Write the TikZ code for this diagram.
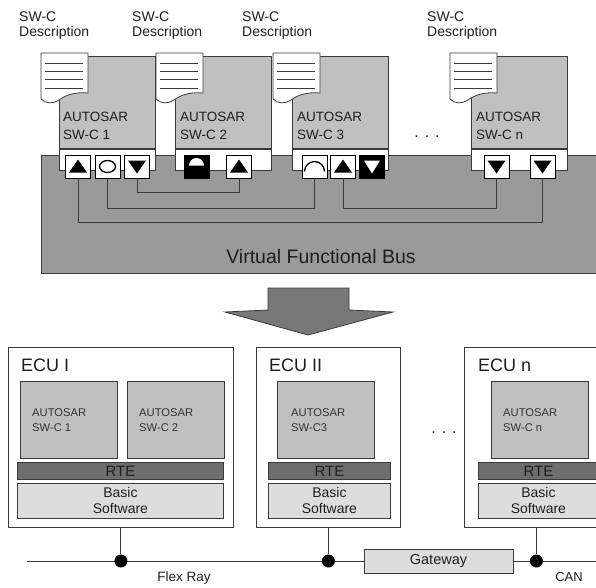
\documentclass[tikz,border=0pt]{standalone}
\usepackage{fontspec}
\setmainfont{Liberation Sans}
\usetikzlibrary{calc}
\definecolor{edge}{HTML}{3A3A3A}
\definecolor{txt}{HTML}{1E1E1E}
\definecolor{swcgray}{HTML}{C0C0C0}
\definecolor{busgray}{HTML}{9A9A9A}
\definecolor{arrowgray}{HTML}{787878}
\definecolor{rtegray}{HTML}{6E6E6E}
\definecolor{bswgray}{HTML}{DDDDDD}
\begin{document}
\begin{tikzpicture}[x=1pt,y=-1pt,
  every node/.style={text=txt},
  box/.style={draw=edge, line width=0.8pt, inner sep=0pt, anchor=north west},
  swcbox/.style={box, fill=swcgray, minimum width=96pt, minimum height=92pt},
  strip/.style={box, fill=white, minimum width=96pt, minimum height=21pt},
  bus/.style={box, fill=busgray},
  desc/.style={anchor=west, align=left, inner sep=0pt, font=\fontsize{14}{15}\selectfont},
  swct/.style={anchor=west, align=left, inner sep=0pt, font=\fontsize{13.5}{18}\selectfont},
  ecut/.style={anchor=west, inner sep=0pt, font=\fontsize{18}{20}\selectfont},
  innert/.style={anchor=west, align=left, inner sep=0pt, text=black!80, font=\fontsize{11.2}{15}\selectfont},
  ecubox/.style={box, fill=white, minimum height=180pt},
  innerbox/.style={box, fill=swcgray, minimum width=97pt, minimum height=77pt},
  rte/.style={box, fill=rtegray, minimum height=17pt, font=\fontsize{15}{16}\selectfont},
  bsw/.style={box, fill=bswgray, minimum height=35pt, align=center, font=\fontsize{14}{16}\selectfont},
  port/.style={draw=black, fill=white, line width=0.8pt, minimum width=25pt, minimum height=23pt, inner sep=0pt},
  pup/.style={port, path picture={\fill[black, shift={(path picture bounding box.center)}] (-9pt,-6pt) -- (9pt,-6pt) -- (0pt,7pt) -- cycle;}},
  pdown/.style={port, path picture={\fill[black, shift={(path picture bounding box.center)}] (-9pt,6pt) -- (9pt,6pt) -- (0pt,-7pt) -- cycle;}},
  pring/.style={port, path picture={\draw[black, line width=1.3pt, shift={(path picture bounding box.center)}] (0pt,0pt) ellipse [x radius=8pt, y radius=6pt];}},
  pdome/.style={port, fill=black, path picture={\fill[white, shift={(path picture bounding box.center)}] (-7.5pt,1pt) arc [start angle=180, end angle=0, radius=7.5pt] -- cycle;}},
  parc/.style={port, path picture={\draw[black, line width=1.3pt, shift={(path picture bounding box.center)}] (-10pt,-5pt) arc [start angle=180, end angle=0, radius=10pt];}},
  pdownw/.style={port, fill=black, path picture={\fill[white, shift={(path picture bounding box.center)}] (-8pt,6pt) -- (8pt,6pt) -- (0pt,-7pt) -- cycle;}},
  wire/.style={draw=edge, line width=0.9pt},
  dot/.style={circle, fill=black, minimum size=13pt, inner sep=0pt},
  swdoc/.pic={
    \filldraw[fill=white, draw=edge, line width=0.8pt] (0,0) -- (47,0) -- (47,40)
      .. controls (36,39) and (26,41) .. (18,47)
      .. controls (12,51) and (5,51) .. (0,46) -- cycle;
    \foreach \yy in {10,18,26,35} \draw[edge, line width=1pt] (4,\yy) -- (42,\yy);
  }
]
\useasboundingbox (0,0) rectangle (596,587);

% ---------------- virtual functional bus view ----------------
\node[bus, minimum width=565pt, minimum height=118pt] (vfb) at (41,155) {};
\node[inner sep=0pt, font=\fontsize{19.5}{21}\selectfont] (vfbt) at (321,257) {Virtual Functional Bus};

% description labels
\node[desc] (d1) at (19,25.5) {SW-C\\Description};
\node[desc] (d2) at (132,25.5) {SW-C\\Description};
\node[desc] (d3) at (242,25.5) {SW-C\\Description};
\node[desc] (dn) at (427,25.5) {SW-C\\Description};

% software components
\node[swcbox] (c1) at (59,56) {};
\node[swcbox] (c2) at (175,56) {};
\node[swcbox] (c3) at (292,56) {};
\node[swcbox] (cn) at (471,56) {};
\node[strip] (s1) at (c1.south west) {};
\node[strip] (s2) at (c2.south west) {};
\node[strip] (s3) at (c3.south west) {};
\node[strip] (sn) at (cn.south west) {};
\node[swct] (t1) at (63,126) {AUTOSAR\\SW-C 1};
\node[swct] (t2) at (180,126) {AUTOSAR\\SW-C 2};
\node[swct] (t3) at (297,126) {AUTOSAR\\SW-C 3};
\node[swct] (tn) at (476,126) {AUTOSAR\\SW-C n};
\node[inner sep=0pt, font=\fontsize{16}{16}\selectfont] (dots1) at (427,137) {. . .};

% description documents
\pic at (41,53) {swdoc};
\pic at (156,53) {swdoc};
\pic at (273,53) {swdoc};
\pic at (450,53) {swdoc};

% port connections
\coordinate (pr) at (0,166.5);
\node[pup]    (p1)  at (78,166.5) {};
\node[pring]  (p2)  at (107.5,166.5) {};
\node[pdown]  (p3)  at (137,166.5) {};
\node[pdome]  (p4)  at (196.5,166.5) {};
\node[pup]    (p5)  at (239,166.5) {};
\node[parc]   (p6)  at (314.5,166.5) {};
\node[pup]    (p7)  at (343,166.5) {};
\node[pdownw] (p8)  at (372,166.5) {};
\node[pdown]  (p9)  at (496.5,166.5) {};
\node[pdown]  (p10) at (542.5,166.5) {};

\draw[wire] (p3.south) -- ++(0,14) -| (p5.south);
\draw[wire] (p2.south) -- ++(0,30) -| (p6.south);
\draw[wire] (p7.south) -- ++(0,30) -| (p9.south);
\draw[wire] (p1.south) -- ++(0,44) -| (p10.south);

% mapping arrow
\filldraw[fill=arrowgray, draw=edge, line width=0.8pt]
  (268,288) -- (349,288) -- (349,310) -- (393,312) -- (308,335) -- (225,312) -- (268,310) -- cycle;

% ---------------- ECU view ----------------
\node[ecubox, minimum width=225pt] (e1) at (8,347) {};
\node[ecubox, minimum width=144pt] (e2) at (256,347) {};
\node[ecubox, minimum width=144pt] (en) at (464,347) {};
\node[ecut] (e1t) at (21,365) {ECU I};
\node[ecut] (e2t) at (269,365) {ECU II};
\node[ecut] (ent) at (478,365) {ECU n};

\node[innerbox] (i1) at (20,381) {};
\node[innerbox] (i2) at (127,381) {};
\node[innerbox] (i3) at (277,381) {};
\node[innerbox] (in) at (491,381) {};
\node[innert] (it1) at (32,420.5) {AUTOSAR\\SW-C 1};
\node[innert] (it2) at (139,420.5) {AUTOSAR\\SW-C 2};
\node[innert] (it3) at (291,420.5) {AUTOSAR\\SW-C3};
\node[innert] (itn) at (503,420.5) {AUTOSAR\\SW-C n};

\node[rte, minimum width=206pt] (r1) at (17,462) {};
\node[rte, minimum width=122pt] (r2) at (268,462) {};
\node[rte, minimum width=120pt] (rn) at (478,462) {};
\node[inner sep=0pt, font=\fontsize{15}{16}\selectfont] at (r1.center) {RTE};
\node[inner sep=0pt, font=\fontsize{15}{16}\selectfont] at (r2.center) {RTE};
\node[inner sep=0pt, font=\fontsize{15}{16}\selectfont] at (rn.center) {RTE};

\node[bsw, minimum width=206pt] (b1) at (17,483) {};
\node[bsw, minimum width=122pt] (b2) at (268,483) {};
\node[bsw, minimum width=120pt] (bn) at (478,483) {};
\node[align=center, inner sep=0pt, font=\fontsize{14}{16}\selectfont] at (b1.center) {Basic\\Software};
\node[align=center, inner sep=0pt, font=\fontsize{14}{16}\selectfont] at (b2.center) {Basic\\Software};
\node[align=center, inner sep=0pt, font=\fontsize{14}{16}\selectfont] at (bn.center) {Basic\\Software};

\node[inner sep=0pt, font=\fontsize{16}{16}\selectfont] (dots2) at (444,433) {. . .};

% buses
\coordinate (frl) at (27,561);
\coordinate (canr) at (600,561);
\node[box, anchor=center, fill=bswgray, minimum width=149pt, minimum height=24pt,
      font=\fontsize{14.5}{16}\selectfont] (gw) at (438.5,561) {Gateway};
\draw[wire] (frl) -- (gw.west);
\draw[wire] (gw.east) -- (canr);
\node[dot] (j1) at (e1.south |- frl) {};
\node[dot] (j2) at (e2.south |- frl) {};
\node[dot] (jn) at (en.south |- frl) {};
\draw[wire] (e1.south) -- (j1);
\draw[wire] (e2.south) -- (j2);
\draw[wire] (en.south) -- (jn);
\node[inner sep=0pt, font=\fontsize{13.5}{15}\selectfont] (fr) at (184,578) {Flex Ray};
\node[inner sep=0pt, font=\fontsize{13}{15}\selectfont] (can) at (569,577) {CAN};
\end{tikzpicture}
\end{document}
